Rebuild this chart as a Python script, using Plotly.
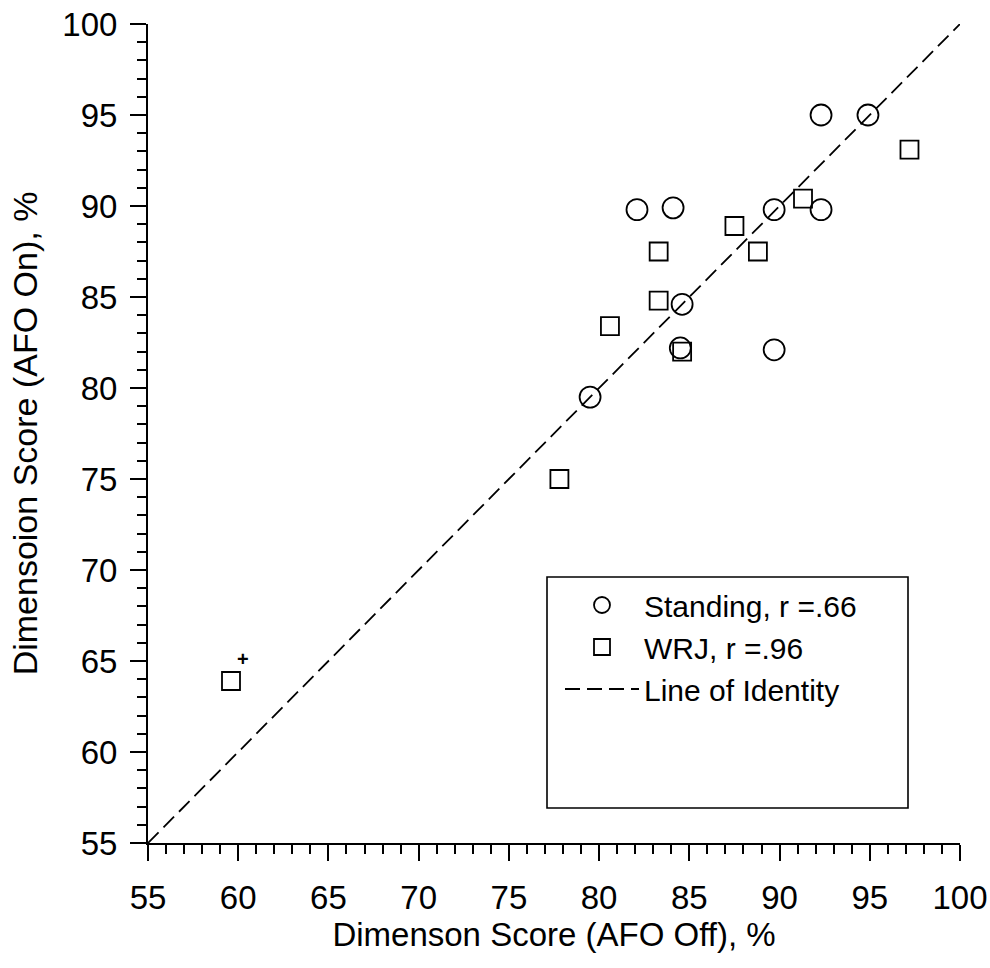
import plotly.graph_objects as go

# Standing (circles)
standing_x = [92.3, 94.9, 82.1, 84.1, 89.7, 92.3, 84.6, 84.5, 89.7, 79.5]
standing_y = [95.0, 95.0, 89.8, 89.9, 89.8, 89.8, 84.6, 82.2, 82.1, 79.5]

# WRJ (squares)
wrj_x = [97.2, 91.3, 87.5, 83.3, 88.8, 83.3, 80.6, 84.6, 77.8, 59.6]
wrj_y = [93.1, 90.4, 88.9, 87.5, 87.5, 84.8, 83.4, 82.0, 75.0, 63.9]

identity = [55, 100]

x_ticks = [55, 60, 65, 70, 75, 80, 85, 90, 95, 100]
y_ticks = [55, 60, 65, 70, 75, 80, 85, 90, 95, 100]

FONT = "Liberation Sans, Arial, Helvetica, sans-serif"

fig = go.Figure()
fig.add_trace(go.Scatter(
    x=standing_x, y=standing_y, mode="markers", name="Standing, r =.66",
    marker=dict(symbol="circle-open", size=21, color="black",
                line=dict(width=1.8, color="black")),
))
fig.add_trace(go.Scatter(
    x=wrj_x, y=wrj_y, mode="markers", name="WRJ, r =.96",
    marker=dict(symbol="square-open", size=18, color="black",
                line=dict(width=1.8, color="black")),
))
fig.add_trace(go.Scatter(
    x=identity, y=identity, mode="lines", name="Line of Identity",
    line=dict(color="black", width=1.8, dash="15px,7px"),
))

fig.add_annotation(x=wrj_x[-1], y=wrj_y[-1], text="<b>+</b>", showarrow=False,
                   xshift=12, yshift=22, font=dict(size=20, color="black", family=FONT))

axis_common = dict(
    showgrid=False, zeroline=False, showline=True, linecolor="black", linewidth=2,
    ticks="outside", ticklen=16, tickwidth=1.8, tickcolor="black",
    minor=dict(dtick=1, ticks="outside", ticklen=9, tickwidth=1.5, tickcolor="black"),
    tickfont=dict(size=33, color="black", family=FONT),
    mirror=False, automargin=False,
)

fig.update_xaxes(range=[55, 100], tickvals=x_ticks, **axis_common, ticklabelstandoff=8,
                 title=dict(text="Dimenson Score (AFO Off), %",
                            font=dict(size=33, color="black", family=FONT), standoff=4))
fig.update_yaxes(range=[55, 100], tickvals=y_ticks, **axis_common, ticklabelstandoff=6,
                 title=dict(text="Dimensoion Score (AFO On), %",
                            font=dict(size=34, color="black", family=FONT), standoff=14))

fig.add_shape(type="rect", xref="paper", yref="paper",
              x0=(547 - 148) / 812, x1=(908 - 148) / 812,
              y0=(843 - 808) / 819, y1=(843 - 577) / 819,
              line=dict(color="black", width=1.6), fillcolor="rgba(0,0,0,0)")

fig.update_layout(
    width=990, height=968,
    margin=dict(l=148, r=30, t=24, b=125),
    paper_bgcolor="white", plot_bgcolor="white",
    showlegend=True,
    legend=dict(x=(560 - 148) / 812, y=(843 - 579) / 819, xanchor="left", yanchor="top",
                bgcolor="rgba(0,0,0,0)", borderwidth=0,
                font=dict(size=30, color="black", family=FONT),
                itemwidth=74, tracegroupgap=0),
    font=dict(family=FONT, color="black"),
)

fig.write_html("out.html")
